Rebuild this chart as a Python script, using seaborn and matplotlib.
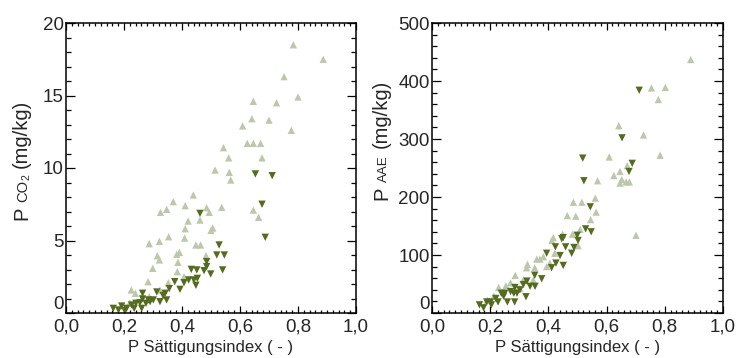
import matplotlib
matplotlib.use("Agg")
import matplotlib.pyplot as plt
import pandas as pd
import seaborn as sns
from matplotlib.ticker import MultipleLocator
from matplotlib.transforms import IdentityTransform

# ---------------- data ----------------
x_ticks = [0.0, 0.2, 0.4, 0.6, 0.8, 1.0]
x_tick_labels = ["0,0", "0,2", "0,4", "0,6", "0,8", "1,0"]
co2_ticks = [0, 5, 10, 15, 20]
aae_ticks = [0, 100, 200, 300, 400, 500]

co2_light_x = [0.784, 0.887, 0.752, 0.646, 0.800, 0.726, 0.641, 0.700, 0.609, 0.777,
               0.625, 0.646, 0.671, 0.676, 0.543, 0.561, 0.514, 0.563, 0.568, 0.439,
               0.370, 0.347, 0.326, 0.411, 0.485, 0.494, 0.537, 0.646, 0.664, 0.421,
               0.462, 0.411, 0.506, 0.500, 0.354, 0.409, 0.287, 0.322, 0.448, 0.464,
               0.391, 0.382, 0.315, 0.322, 0.483, 0.386, 0.299, 0.384, 0.407, 0.283,
               0.353, 0.225, 0.239, 0.324, 0.287, 0.220]
co2_light_y = [18.5, 17.5, 16.3, 14.6, 14.9, 14.5, 13.4, 13.3, 12.9, 12.6,
               11.7, 11.7, 11.7, 10.7, 11.4, 10.7, 9.86, 9.7, 9.17, 8.14,
               7.68, 7.15, 6.94, 7.4, 7.26, 6.94, 7.29, 7.1, 6.6, 6.34,
               6.41, 5.81, 5.86, 5.7, 5.26, 5.17, 4.78, 4.94, 4.69, 4.69,
               4.18, 4.05, 3.95, 3.66, 3.95, 3.5, 3.08, 2.85, 2.51, 2.16,
               2.09, 1.59, 1.36, 1.59, 1.13, 0.7]
co2_dark_x = [0.653, 0.711, 0.676, 0.687, 0.462, 0.528, 0.520, 0.546, 0.540, 0.485,
              0.485, 0.476, 0.499, 0.432, 0.451, 0.453, 0.441, 0.448, 0.423, 0.407,
              0.375, 0.393, 0.356, 0.342, 0.347, 0.313, 0.324, 0.301, 0.290, 0.264,
              0.264, 0.276, 0.255, 0.261, 0.241, 0.226, 0.209, 0.192, 0.181, 0.163,
              0.203, 0.235, 0.284, 0.335]
co2_dark_y = [9.59, 9.47, 7.5, 5.22, 6.87, 4.69, 4.0, 4.0, 2.97, 3.54,
              3.2, 2.92, 2.69, 3.01, 2.97, 2.39, 2.28, 1.91, 2.28, 2.09,
              2.16, 1.63, 1.68, 1.36, 0.9, 1.45, 0.78, 0.9, 0.78, 1.36,
              0.97, 0.67, 0.71, 0.32, 0.67, 0.55, 0.32, 0.48, 0.21, 0.32,
              0.15, 0.32, 0.9, 1.2]

aae_light_x = [0.889, 0.754, 0.802, 0.778, 0.642, 0.727, 0.784, 0.609, 0.625, 0.646,
               0.646, 0.667, 0.678, 0.652, 0.671, 0.569, 0.701, 0.561, 0.486, 0.515,
               0.564, 0.465, 0.494, 0.545, 0.509, 0.483, 0.449, 0.417, 0.412, 0.502,
               0.422, 0.383, 0.371, 0.360, 0.405, 0.394, 0.328, 0.325, 0.353, 0.286,
               0.314, 0.270, 0.254, 0.229, 0.213, 0.190, 0.348, 0.302]
aae_light_y = [437, 388, 389, 368, 323, 307, 272, 269, 237, 244,
               224, 226, 226, 230, 254, 228, 134, 198, 191, 191,
               174, 168, 167, 161, 144, 136, 136, 130, 125, 116,
               103, 97, 93, 93, 86, 80, 84, 78, 78, 65,
               57, 52, 47, 44, 29, 22, 57, 42]
aae_dark_x = [0.712, 0.653, 0.518, 0.522, 0.688, 0.677, 0.544, 0.528, 0.547, 0.499,
              0.502, 0.451, 0.446, 0.424, 0.488, 0.480, 0.459, 0.440, 0.394, 0.426,
              0.411, 0.451, 0.377, 0.353, 0.354, 0.337, 0.326, 0.314, 0.323, 0.302,
              0.285, 0.292, 0.281, 0.270, 0.259, 0.284, 0.250, 0.238, 0.227, 0.219,
              0.201, 0.188, 0.177, 0.163, 0.204, 0.246]
aae_dark_y = [384, 302, 267, 228, 258, 244, 183, 145, 140, 134,
              125, 130, 128, 114, 113, 103, 114, 99, 103, 86,
              78, 82, 59, 65, 46, 46, 55, 49, 28, 40,
              44, 34, 34, 37, 19, 19, 34, 34, 19, 25,
              19, 19, 9, 14, 14, 29]

LIGHT = "#bdc8ab"
DARK = "#556b1f"

# ---------------- style ----------------
sns.set_style("ticks")
plt.rcParams["font.family"] = ["Liberation Sans", "DejaVu Sans"]

fig = plt.figure(figsize=(7.4, 3.58), dpi=100)
W, H = 740, 358
ax1 = fig.add_axes([66 / W, 45 / H, 290 / W, 290 / H])
ax2 = fig.add_axes([432 / W, 45 / H, 291 / W, 290 / H])


def panel(ax, lx, ly, dx, dy, yticks, yminor):
    df = pd.DataFrame({
        "x": list(lx) + list(dx),
        "y": list(ly) + list(dy),
        "g": ["light"] * len(lx) + ["dark"] * len(dx),
    })
    sns.scatterplot(data=df, x="x", y="y", hue="g", style="g",
                    palette={"light": LIGHT, "dark": DARK},
                    markers={"light": "^", "dark": "v"},
                    s=28, linewidth=0, legend=False, ax=ax)
    ax.set_xlim(0, 1)
    ax.set_ylim(yticks[0], yticks[-1])
    ax.set_xticks(x_ticks)
    ax.set_xticklabels(x_tick_labels, fontsize=13.5)
    ax.xaxis.set_minor_locator(MultipleLocator(0.02))
    ax.set_yticks(yticks)
    ax.set_yticklabels([str(v) for v in yticks], fontsize=13.5)
    ax.get_yticklabels()[0].set_verticalalignment("bottom")
    ax.yaxis.set_minor_locator(MultipleLocator(yminor))
    ax.tick_params(which="both", direction="in", top=True, right=True,
                   color="black", width=0.9)
    ax.tick_params(axis="x", which="major", length=5, pad=4)
    ax.tick_params(axis="x", which="minor", length=2.5)
    ax.tick_params(axis="y", which="major", length=6.5, pad=1.5)
    ax.tick_params(axis="y", which="minor", length=3.5)
    for sp in ax.spines.values():
        sp.set_visible(True)
        sp.set_linewidth(1.1)
        sp.set_color("black")
    ax.set_xlabel("P Sättigungsindex ( - )", fontsize=12, labelpad=3)
    ax.set_ylabel("")
    ax.set_facecolor("white")


panel(ax1, co2_light_x, co2_light_y, co2_dark_x, co2_dark_y, co2_ticks, 1)
panel(ax2, aae_light_x, aae_light_y, aae_dark_x, aae_dark_y, aae_ticks, 20)


def rot_label(x_px, y_px, pieces):
    r = fig.canvas.get_renderer()
    y = y_px
    for txt, size, dxp, gap in pieces:
        t = fig.text(x_px + dxp, y, txt, rotation=90, rotation_mode="anchor",
                     ha="left", va="baseline", fontsize=size,
                     transform=IdentityTransform())
        bb = t.get_window_extent(renderer=r)
        y += bb.height + gap


rot_label(27, H - 220, [("P", 14.5, 0, 5), ("CO", 10.6, 0, 0),
                        ("2", 7.5, 2, 6), ("(mg/kg)", 14.5, 0, 0)])
rot_label(387, H - 200, [("P", 14.5, 0, 5), ("AAE", 9.5, 0, 7),
                         ("(mg/kg)", 14.5, 0, 0)])

fig.savefig("out.png", dpi=100, facecolor="white")
